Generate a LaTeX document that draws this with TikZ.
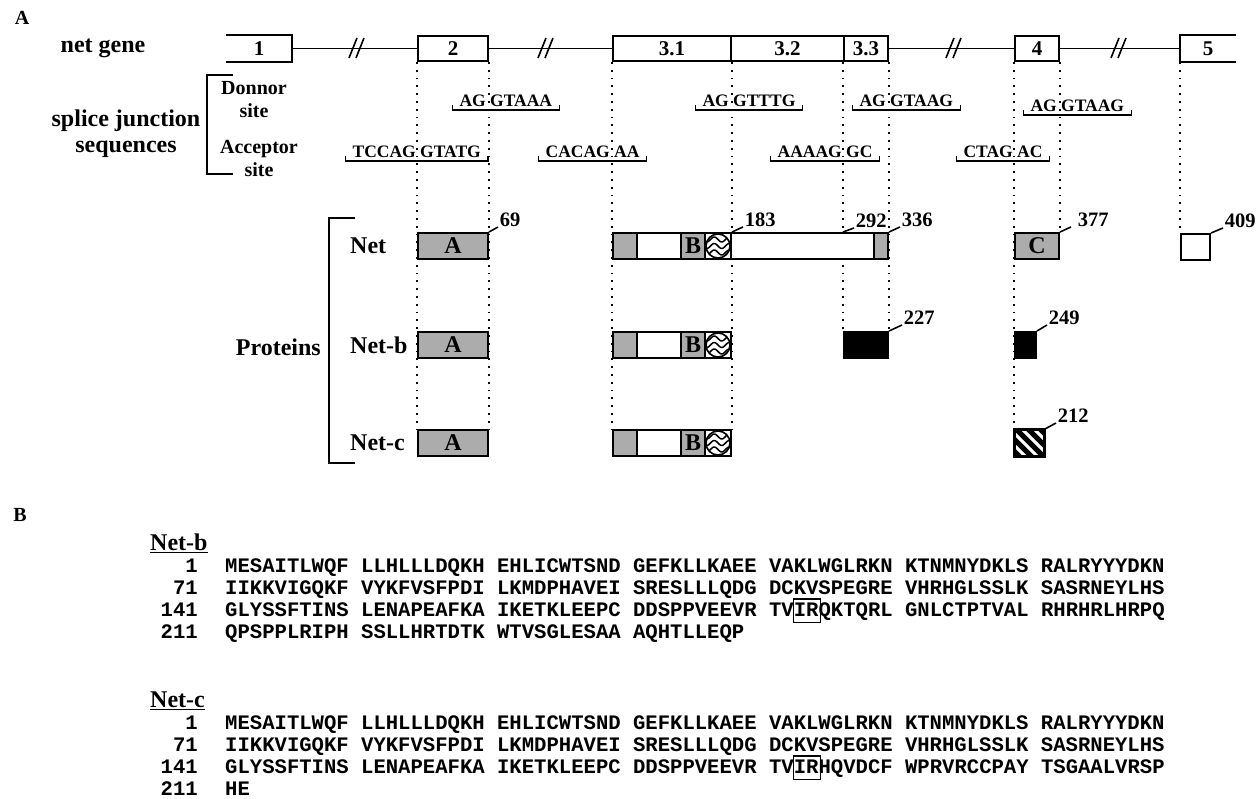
\documentclass[tikz,border=0pt]{standalone}
\usepackage{fontspec}
\setmainfont{Liberation Serif}
\setmonofont{Liberation Mono}
\usetikzlibrary{positioning, calc, backgrounds}

% frame round residues, takes no width
\newcommand\boxedres[1]{\makebox[0pt][l]{\kern-1pt\raisebox{-5pt}{\setlength\fboxsep{0pt}\setlength\fboxrule{1.2pt}\fbox{\rule{0pt}{22pt}\phantom{#1}\kern1pt}}}#1}

\begin{document}
\begin{tikzpicture}[
    x=1pt, y=-1pt,
    every node/.style={font=\bfseries},
]
\useasboundingbox (0,0) rectangle (1256,799);
% Colors
\definecolor{domaingray}{RGB}{172,172,172}
% ============================================================
% Styles
% ============================================================
\tikzset{
    big/.style={font=\bfseries\fontsize{24}{26}\selectfont, align=center, inner sep=0pt},
    sub/.style={font=\bfseries\fontsize{20}{23}\selectfont, align=center, inner sep=0pt},
    panel/.style={font=\bfseries\fontsize{20}{24}\selectfont, inner sep=0pt},
    splice/.style={font=\bfseries\fontsize{17.5}{20}\selectfont, inner sep=0pt},
    tag/.style={font=\bfseries\fontsize{20.5}{24}\selectfont, inner sep=1pt},
    exon/.style={draw, fill=white, line width=2pt, minimum height=25pt,
        inner sep=0pt, font=\bfseries\fontsize{21}{24}\selectfont},
    dom/.style={draw, fill=domaingray, line width=2pt, minimum height=26pt,
        inner sep=0pt, font=\bfseries\fontsize{24}{26}\selectfont},
    plain/.style={draw, fill=white, line width=2pt, minimum height=26pt, inner sep=0pt},
    intron/.style={line width=1.4pt},
    cut/.style={line width=1.6pt},
    brace/.style={line width=1.5pt},
    bracket/.style={line width=1.8pt},
    leader/.style={line width=1.6pt},
    guide/.style={line width=1.8pt, dash pattern=on 1.8pt off 6pt},
    residues/.style={font=\bfseries\ttfamily\fontsize{20.6}{24}\selectfont, inner sep=0pt},
}

% ============================================================
% A: gene structure
% ============================================================
\node[panel] (pa) at (22,18) {A};
\node[big] (gene) at (103,48) {net gene};

% --- Exons ---
\node[exon, draw=none, minimum width=64pt] (e1) at (259,48.5) {1};
\node[exon, minimum width=70pt] (e2) at (453,48.5) {2};
\node[exon, minimum width=118pt] (e31) at (672,48.5) {3.1};
\node[exon, minimum width=113pt] (e32) at (787.5,48.5) {3.2};
\node[exon, minimum width=44pt] (e33) at (866,48.5) {3.3};
\node[exon, minimum width=44pt] (e4) at (1037,48.5) {4};
\node[exon, draw=none, minimum width=54pt] (e5) at (1208,48.5) {5};
\draw[line width=2pt] (e1.north west) -- (e1.north east) -- (e1.south east) -- (e1.south west);
\draw[line width=2pt] (e5.north east) -- (e5.north west) -- (e5.south west) -- (e5.south east);

% --- Introns with breaks ---
\foreach \i/\j in {e1/e2, e2/e31, e33/e4, e4/e5}
    \draw[intron] (\i.east) -- (\j.west);
\foreach \bx in {357, 546, 954, 1119} {
    \draw[cut] (\bx-8,58) -- (\bx,38);
    \draw[cut] (\bx-1,58) -- (\bx+7,38);
}

% --- Splice junction sequences ---
\node[big] (sjs) at (126,134) {splice junction\\sequences};
\draw[bracket] (233,75) -- (207,75) -- (207,174) -- (233,174);
\node[sub] (donor) at (254,99.5) {Donnor\\site};
\node[sub] (acceptor) at (259,158) {Acceptor\\site};

\foreach \sx/\sy/\sl/\sr [count=\i] in {488/107/AG/GTAAA, 418/158/TCCAG/GTATG,
        612/158/CACAG/AA, 731/107/AG/GTTTG, 844/158/AAAAG/GC,
        888/107/AG/GTAAG, 1015/158/CTAG/AC, 1059/112/AG/GTAAG} {
    \node[splice, anchor=base east] (sl\i) at (\sx-2,\sy) {\sl};
    \node[splice, anchor=base west] (sr\i) at (\sx+2,\sy) {\sr};
    \draw[brace] ($(sl\i.base west)+(-7,-2)$) -- ++(0,5)
        -- ($(sr\i.base east)+(7,3)$) -- ++(0,-5);
}

% --- Proteins ---
\node[big, anchor=east] (prot) at (321,347) {Proteins};
\draw[bracket] (355,218) -- (329,218) -- (329,463) -- (355,463);
\node[big, anchor=west] (lnet) at (350,246) {Net};
\node[big, anchor=west] (lnetb) at (350,345) {Net-b};
\node[big, anchor=west] (lnetc) at (350,443) {Net-c};

\foreach \pr/\yy in {n/246, b/345, c/443} {
    \node[dom, minimum width=70pt] (\pr A) at (453,\yy) {A};
    \node[dom, minimum width=24pt] (\pr G) at (625,\yy) {};
    \node[plain, minimum width=44pt] (\pr E) at (659,\yy) {};
    \node[dom, minimum width=24pt] (\pr B) at (693,\yy) {B};
    \node[plain, minimum width=26pt] (\pr W) at (718,\yy) {};
    \draw[line width=1.6pt] (\pr W.center) circle (12);
    \begin{scope}
        \clip (\pr W.center) circle (12);
        \foreach \wv in {-6.5, 0, 6.5}
            \draw[line width=1.5pt] plot[smooth, domain=-13:13, samples=25]
                ({718+\x}, {\yy+\wv+2.5*sin(\x*24)});
    \end{scope}
}
% Net
\node[plain, minimum width=143pt] (nL) at (802.5,246) {};
\node[dom, minimum width=14pt] (nT) at (881,246) {};
\node[dom, minimum width=44pt] (nC) at (1037,246) {C};
\node[plain, minimum width=29pt] (nF) at (1195.5,247) {};
% Net-b
\node[plain, fill=black, minimum width=44pt] (bK) at (866,345) {};
\node[plain, fill=black, minimum width=21pt] (bS) at (1025.5,345) {};
% Net-c
\node[plain, minimum width=29pt] (cH) at (1029.5,443) {};
\begin{scope}
    \clip (cH.north west) rectangle (cH.south east);
    \foreach \k in {-36, -24, -12, 0, 12, 24}
        \draw[line width=5pt] (1015+\k,428) -- (1045+\k,458);
\end{scope}
\draw[line width=2pt] (cH.north west) rectangle (cH.south east);

% --- Residue numbers ---
\draw[leader] (nA.north east) -- ++(9,-5) node[tag, anchor=base west] (t69) {69};
\draw[leader] (nW.north east) -- ++(11,-5) node[tag, anchor=base west] (t183) {183};
\draw[leader] (e33.south west |- nL.north) -- ++(11,-4) node[tag, anchor=base west] (t292) {292};
\draw[leader] (nT.north east) -- ++(11,-5) node[tag, anchor=base west] (t336) {336};
\draw[leader] (nC.north east) -- ++(11,-5) node[tag, anchor=base west, xshift=5pt] (t377) {377};
\draw[leader] (nF.north east) -- ++(12,-5) node[tag, anchor=base west] (t409) {409};
\draw[leader] (bK.north east) -- ++(13,-6) node[tag, anchor=base west] (t227) {227};
\draw[leader] (bS.north east) -- ++(10,-6) node[tag, anchor=base west] (t249) {249};
\draw[leader] (cH.north east) -- ++(11,-6) node[tag, anchor=base west] (t212) {212};

% --- Dotted guides from exon borders ---
\begin{scope}[on background layer]
\foreach \i/\j in {e2.south west/cA.north west, e2.south east/cA.north east,
        e31.south west/cG.north west, e31.south east/cW.north east,
        e33.south west/bK.north west, e33.south east/bK.north east,
        e4.south west/cH.north west, e4.south east/nC.north east,
        e5.south west/nF.north west}
    \draw[guide] (\i) -- (\j);
\end{scope}

% ============================================================
% B: sequences
% ============================================================
\node[panel] (pb) at (20,515) {B};

\node[big, anchor=west] (hb) at (150,543) {\underline{Net-b}};
\foreach \num/\seq [count=\i] in {
        1/{MESAITLWQF LLHLLLDQKH EHLICWTSND GEFKLLKAEE VAKLWGLRKN KTNMNYDKLS RALRYYYDKN},
        71/{IIKKVIGQKF VYKFVSFPDI LKMDPHAVEI SRESLLLQDG DCKVSPEGRE VHRHGLSSLK SASRNEYLHS},
        141/{GLYSSFTINS LENAPEAFKA IKETKLEEPC DDSPPVEEVR TV\boxedres{IR}QKTQRL GNLCTPTVAL RHRHRLHRPQ},
        211/{QPSPPLRIPH SSLLHRTDTK WTVSGLESAA AQHTLLEQP}} {
    \node[residues, anchor=base east] (bn\i) at (198,550.5+22*\i) {\num};
    \node[residues, anchor=base west] (bs\i) at (225,550.5+22*\i) {\seq};
}

\node[big, anchor=west] (hc) at (150,701) {\underline{Net-c}};
\foreach \num/\seq [count=\i] in {
        1/{MESAITLWQF LLHLLLDQKH EHLICWTSND GEFKLLKAEE VAKLWGLRKN KTNMNYDKLS RALRYYYDKN},
        71/{IIKKVIGQKF VYKFVSFPDI LKMDPHAVEI SRESLLLQDG DCKVSPEGRE VHRHGLSSLK SASRNEYLHS},
        141/{GLYSSFTINS LENAPEAFKA IKETKLEEPC DDSPPVEEVR TV\boxedres{IR}HQVDCF WPRVRCCPAY TSGAALVRSP},
        211/{HE}} {
    \node[residues, anchor=base east] (cn\i) at (198,707.5+22*\i) {\num};
    \node[residues, anchor=base west] (cs\i) at (225,707.5+22*\i) {\seq};
}
\end{tikzpicture}
\end{document}
